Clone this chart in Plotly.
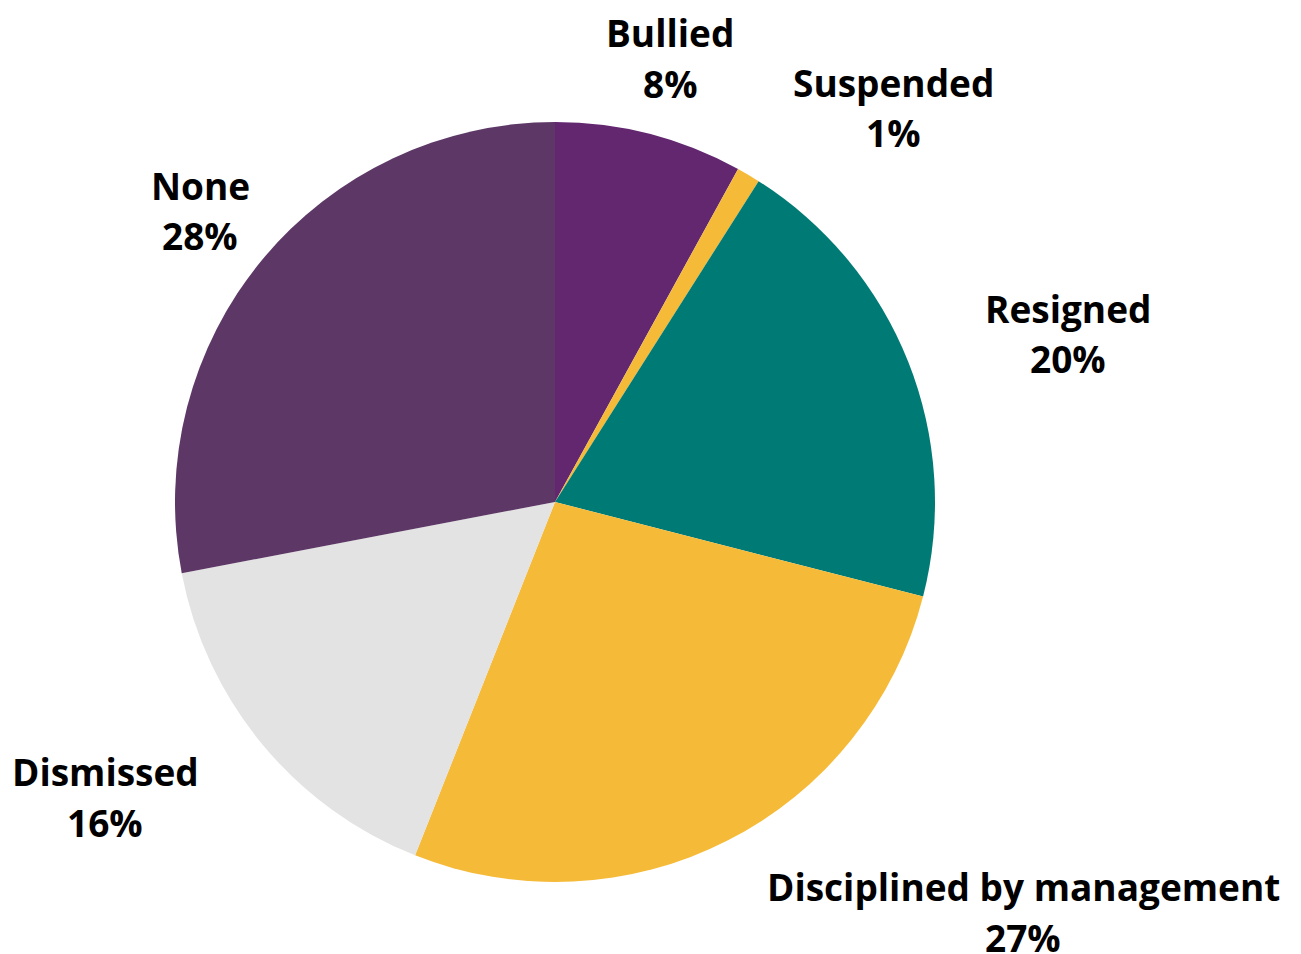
import plotly.graph_objects as go

# Outcome categories and their shares (%)
labels = ["Bullied", "Suspended", "Resigned", "Disciplined by management", "Dismissed", "None"]
values = [8, 1, 20, 27, 16, 28]
colors = ["#62276F", "#F5BA38", "#007A74", "#F5BA38", "#E3E3E3", "#5D3866"]

W, H = 1301, 954
CX, CY, R = 555, 502, 380  # pie centre and radius in pixels

# Label centres (pixels from top-left) for each slice's name line
label_pos = {
    "Bullied": (670, 32),
    "Suspended": (893, 82),
    "Resigned": (1068, 308),
    "Disciplined by management": (1023, 886),
    "Dismissed": (105, 771),
    "None": (200, 185),
}
LINE_GAP = 51

fig = go.Figure(
    go.Pie(
        labels=labels,
        values=values,
        marker=dict(colors=colors, line=dict(width=0)),
        sort=False,
        direction="clockwise",
        rotation=0,
        textinfo="none",
        hoverinfo="label+percent",
        showlegend=False,
        domain=dict(
            x=[(CX - R) / W, (CX + R) / W],
            y=[(H - CY - R) / H, (H - CY + R) / H],
        ),
    )
)

total = sum(values)
font = dict(family="Open Sans", size=37, color="#000000")
annotations = []
for name, v in zip(labels, values):
    px, py = label_pos[name]
    pct = round(100 * v / total)
    for text, yy in ((f"<b>{name}</b>", py), (f"<b>{pct}%</b>", py + LINE_GAP)):
        annotations.append(
            dict(
                x=px / W,
                y=1 - yy / H,
                xref="paper",
                yref="paper",
                text=text,
                showarrow=False,
                xanchor="center",
                yanchor="middle",
                font=font,
            )
        )

fig.update_layout(
    width=W,
    height=H,
    margin=dict(l=0, r=0, t=0, b=0),
    paper_bgcolor="white",
    plot_bgcolor="white",
    annotations=annotations,
)

fig.write_html("out.html")
